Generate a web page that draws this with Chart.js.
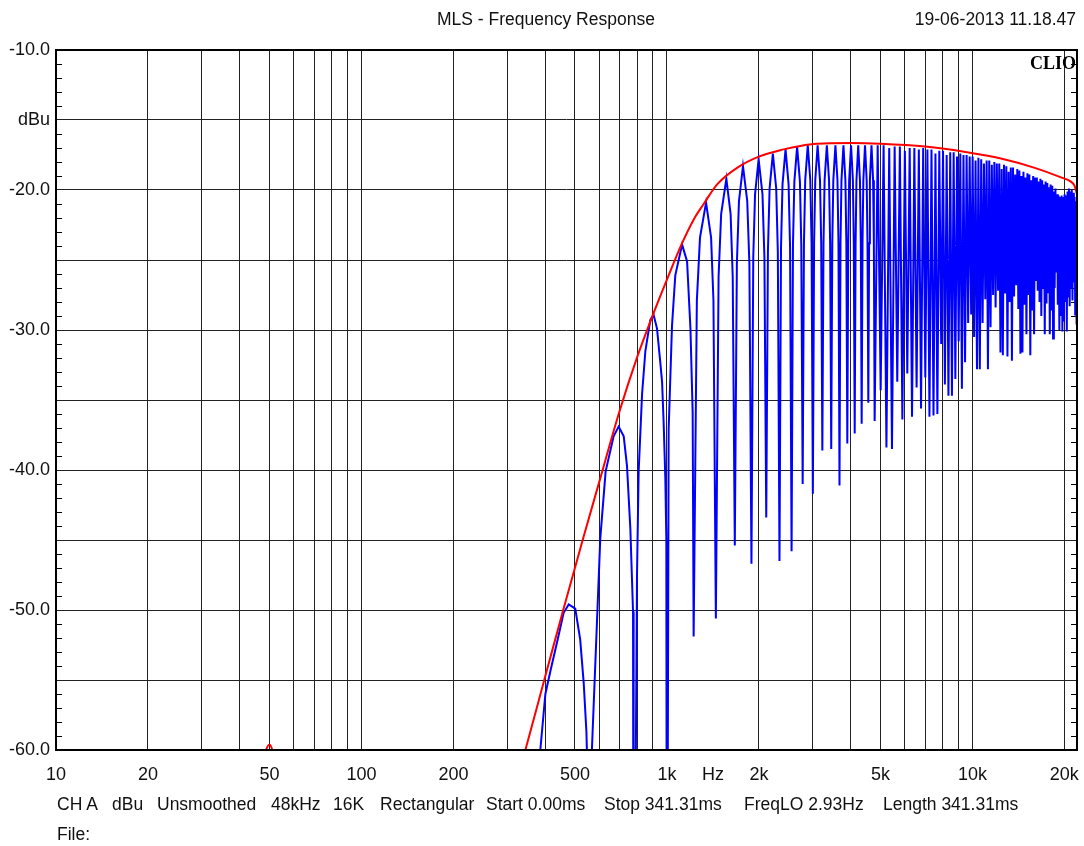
<!DOCTYPE html>
<html>
<head>
<meta charset="utf-8">
<title>MLS - Frequency Response</title>
<script src="https://cdn.jsdelivr.net/npm/chart.js@4.4.0/dist/chart.umd.min.js"></script>
<style>
  html, body { margin: 0; padding: 0; background: #fff; }
  #wrap { position: relative; width: 1084px; height: 846px; overflow: hidden;
          font-family: "Liberation Sans", Arial, sans-serif; color: #111; }
  #wrap canvas { position: absolute; left: 0; top: 0; }
  .txt { position: absolute; font-size: 17.5px; line-height: 20px; white-space: pre; }
  .foot { top: 794px; }
  #clio { position: absolute; right: 8px; top: 53px; font-family: "Liberation Serif", "DejaVu Serif", serif;
          font-weight: bold; font-size: 18px; line-height: 20px; color: #000; }
</style>
</head>
<body>
<div id="wrap">
  <canvas id="chart" width="1084" height="846"></canvas>
  <div class="txt" style="left:437px; top:9px;">MLS - Frequency Response</div>
  <div class="txt" style="right:8px; top:9px;">19-06-2013 11.18.47</div>
  <div id="clio">CLIO</div>
  <div class="txt foot" style="left:57px;">CH A</div>
  <div class="txt foot" style="left:112px;">dBu</div>
  <div class="txt foot" style="left:157px;">Unsmoothed</div>
  <div class="txt foot" style="left:271px;">48kHz</div>
  <div class="txt foot" style="left:333px;">16K</div>
  <div class="txt foot" style="left:380px;">Rectangular</div>
  <div class="txt foot" style="left:486px;">Start 0.00ms</div>
  <div class="txt foot" style="left:604px;">Stop 341.31ms</div>
  <div class="txt foot" style="left:744px;">FreqLO 2.93Hz</div>
  <div class="txt foot" style="left:883px;">Length 341.31ms</div>
  <div class="txt" style="left:57px; top:824px;">File:</div>
</div>
<script>
// Axis ticks
const xTickHz   = [10, 20, 30, 40, 50, 60, 70, 80, 90, 100, 200, 300, 400, 500, 600, 700, 800, 900,
                   1000, 1414, 2000, 3000, 4000, 5000, 6000, 7000, 8000, 9000, 10000, 20000];
const xTickText = ['10', '20', '', '', '50', '', '', '', '', '100', '200', '', '', '500', '', '', '', '',
                   '1k', 'Hz', '2k', '', '', '5k', '', '', '', '', '10k', '20k'];
const yTickDb   = [-60, -55, -50, -45, -40, -35, -30, -25, -20, -15, -10];
const yTickText = ['-60.0', '', '-50.0', '', '-40.0', '', '-30.0', '', '-20.0', 'dBu', '-10.0'];

// Smoothed envelope (red)
const envelopeHz = [10, 45, 50, 55, 300, 344, 400, 459, 533, 605, 695, 800, 904,
                    1000, 1121, 1224, 1319, 1460, 1701, 2009, 2410, 2732, 3100, 4000, 5000, 7000,
                    9600, 12400, 15900, 19500, 21000, 21600, 22000];
const envelopeDb = [-90, -63, -59.6, -63, -64.6, -60, -54.7, -49.9, -44.8, -40.6, -36.0, -31.9, -28.8,
                    -26.4, -23.8, -22.1, -21.0, -19.6, -18.4, -17.6, -17.1, -16.85, -16.7, -16.65, -16.7, -16.9,
                    -17.3, -17.75, -18.4, -19.1, -19.4, -19.7, -20.3];

// Raw response (blue), lower lobes up to 4.8 kHz
const lobeHz = [
  370, 385, 400, 416, 440, 459, 477, 501, 520, 534, 545, 550, 555,
  562, 568, 605, 630, 669, 695, 722, 740, 759, 774.5, 778,
  798, 808, 829, 850, 882, 904, 928, 951, 964, 975.5, 988, 995.5, 1000,
  1013, 1039, 1065, 1121, 1164, 1194, 1214, 1223,
  1253, 1283, 1343, 1395, 1420, 1446,
  1476, 1505, 1565, 1616, 1642, 1668,
  1694, 1721, 1774, 1832, 1862, 1891,
  1917, 1943, 1996, 2055, 2085, 2114,
  2141, 2168, 2222, 2279, 2307, 2336,
  2363, 2390, 2445, 2502, 2530, 2559,
  2586, 2613, 2668, 2725, 2753, 2782,
  2809, 2836, 2891, 2947, 2975, 3004,
  3032, 3059, 3114, 3170, 3199, 3227,
  3255, 3282, 3338, 3394, 3422, 3450,
  3478, 3505, 3561, 3616, 3644, 3672,
  3700, 3727, 3783, 3839, 3867, 3895,
  3923, 3950, 4006, 4062, 4090, 4118,
  4146, 4173, 4229, 4284, 4312, 4340,
  4368, 4395, 4451, 4507, 4535, 4563,
  4591, 4618, 4674, 4730, 4758, 4786
];
const lobeDb = [
  -66, -60, -56, -54.3, -52.0, -50.2, -49.6, -49.9, -52.1, -55.2, -58.7, -62, -85,
  -68, -60, -44.9, -40.1, -37.6, -36.9, -37.6, -39.7, -44.2, -50.1, -85,
  -47.5, -40.1, -34.6, -31.5, -29.3, -28.9, -29.9, -32.3, -33.7, -36.6, -40.6, -45, -85,
  -37.1, -29.7, -26.1, -23.9, -25.1, -29.9, -35.9, -51.9,
  -27.9, -23.4, -20.9, -23.4, -27.9, -50.6,
  -26.2, -21.7, -19.2, -21.7, -26.2, -45.4,
  -25.3, -20.8, -18.3, -20.8, -25.3, -46.7,
  -24.8, -20.3, -17.8, -20.3, -24.8, -43.4,
  -24.4, -19.9, -17.4, -19.9, -24.4, -46.5,
  -24.1, -19.6, -17.1, -19.6, -24.1, -45.8,
  -23.9, -19.4, -16.9, -19.4, -23.9, -41.0,
  -23.8, -19.3, -16.8, -19.3, -23.8, -41.7,
  -23.8, -19.3, -16.8, -19.3, -23.8, -38.6,
  -23.8, -19.3, -16.8, -19.3, -23.8, -38.5,
  -23.8, -19.3, -16.8, -19.3, -23.8, -41.1,
  -23.8, -19.3, -16.8, -19.3, -23.8, -38.1,
  -23.8, -19.3, -16.8, -19.3, -23.8, -37.4,
  -23.8, -19.3, -16.8, -19.3, -23.8, -36.7,
  -23.8, -19.3, -16.8, -19.3, -23.8, -35.2,
  -23.8, -19.3, -16.8, -19.3, -23.8, -36.5
];

// Raw response (blue), dense comb above 4.8 kHz: lobe peaks and the notches after them
const combPeakHz = [
  4897, 5120, 5342, 5565, 5788, 6010, 6233, 6456, 6678, 6901,
  7124, 7346, 7569, 7792, 8014, 8237, 8460, 8682, 8905, 9128,
  9350, 9573, 9796, 10018, 10241, 10464, 10686, 10909, 11132, 11354,
  11577, 11800, 12022, 12245, 12468, 12690, 12913, 13136, 13358, 13581,
  13804, 14026, 14249, 14472, 14694, 14917, 15140, 15362, 15585, 15808,
  16030, 16253, 16476, 16698, 16921, 17144, 17366, 17589, 17812, 18034,
  18257, 18480, 18702, 18925, 19148, 19370, 19593, 19816, 20038, 20261,
  20484, 20706, 20929, 21152, 21374, 21597, 21820
];
const combPeakDb = [
  -16.8, -16.8, -17.0, -16.9, -16.9, -17.2, -17.0, -17.0, -17.1, -17.0,
  -17.1, -17.1, -17.4, -17.2, -17.2, -17.5, -17.3, -17.3, -17.6, -17.4,
  -17.5, -17.5, -17.6, -17.6, -17.9, -17.7, -17.8, -18.1, -17.9, -17.9,
  -18.2, -18.0, -18.1, -18.1, -18.5, -18.2, -18.3, -18.7, -18.4, -18.4,
  -18.9, -18.5, -18.6, -19.0, -18.7, -19.1, -18.8, -18.9, -19.3, -19.0,
  -19.1, -19.1, -19.4, -19.2, -19.3, -19.6, -19.4, -19.5, -19.8, -19.6,
  -19.7, -20.1, -19.9, -20.3, -20.4, -20.5, -20.4, -20.5, -20.3, -20.4,
  -20.1, -19.9, -20.1, -20.0, -20.2, -20.5, -20.8
];
const combNotchHz = [
  5008, 5231, 5454, 5676, 5899, 6122, 6344, 6567, 6790, 7012,
  7235, 7458, 7680, 7903, 8126, 8348, 8571, 8794, 9016, 9239,
  9462, 9684, 9907, 10130, 10352, 10575, 10798, 11020, 11243, 11466,
  11688, 11911, 12134, 12356, 12579, 12802, 13024, 13247, 13470, 13692,
  13915, 14138, 14360, 14583, 14806, 15028, 15251, 15474, 15696, 15919,
  16142, 16364, 16587, 16810, 17032, 17255, 17478, 17700, 17923, 18146,
  18368, 18591, 18814, 19036, 19259, 19482, 19704, 19927, 20150, 20372,
  20595, 20818, 21040, 21263, 21486, 21708, 21931
];
const combNotchDb = [
  -34.3, -38.4, -38.5, -33.7, -36.4, -33.1, -36.2, -34.1, -35.6, -33.4,
  -36.2, -36.1, -36.0, -31.0, -33.9, -34.7, -34.7, -33.5, -30.8, -34.2,
  -32.3, -29.5, -28.9, -30.5, -32.8, -32.8, -29.5, -27.8, -32.8, -29.8,
  -27.5, -28.4, -27.2, -31.6, -31.8, -27.4, -31.9, -28.0, -32.2, -27.6,
  -26.8, -28.5, -31.7, -31.6, -28.2, -30.3, -27.5, -31.8, -28.6, -30.3,
  -26.5, -27.2, -28.0, -29.0, -27.0, -30.3, -28.1, -27.3, -30.3, -28.6,
  -30.6, -27.0, -25.9, -28.2, -30.0, -29.0, -30.1, -29.4, -28.0, -30.1,
  -27.6, -28.3, -27.0, -27.9, -26.6, -28.9, -29.6
];
const tailHz = [22000];
const tailDb = [-21.2];

// Assemble the point lists for the library
const envelopePts = envelopeHz.map((f, i) => ({ x: f, y: envelopeDb[i] }));
const responsePts = lobeHz.map((f, i) => ({ x: f, y: lobeDb[i] }));
combPeakHz.forEach((f, i) => {
  responsePts.push({ x: f, y: combPeakDb[i] });
  responsePts.push({ x: combNotchHz[i], y: combNotchDb[i] });
});
tailHz.forEach((f, i) => responsePts.push({ x: f, y: tailDb[i] }));

const FONT = { family: '"Liberation Sans", Arial, sans-serif', size: 18 };
const GRID = '#222';

// Frame and the 1 dB minor ticks on both vertical edges
const framePlugin = {
  id: 'frame',
  beforeDatasetsDraw(chart) {
    const { ctx, chartArea: a, scales: { y } } = chart;
    ctx.save();
    ctx.strokeStyle = '#000';
    ctx.lineWidth = 1;
    ctx.beginPath();
    for (let v = -59; v <= -11; v++) {
      if (v % 5 === 0) continue;
      const py = Math.round(y.getPixelForValue(v)) + 0.5;
      ctx.moveTo(a.left, py); ctx.lineTo(a.left + 6, py);
      ctx.moveTo(a.right - 6, py); ctx.lineTo(a.right, py);
    }
    ctx.stroke();
    ctx.restore();
  },
  afterDatasetsDraw(chart) {
    const { ctx, chartArea: a } = chart;
    ctx.save();
    ctx.strokeStyle = '#000';
    ctx.lineWidth = 2;
    ctx.strokeRect(a.left, a.top, a.right - a.left, a.bottom - a.top);
    ctx.restore();
  }
};

new Chart(document.getElementById('chart'), {
  type: 'line',
  data: {
    datasets: [
      {
        label: 'Envelope',
        data: envelopePts,
        borderColor: '#ff0000',
        borderWidth: 2,
        pointRadius: 0,
        cubicInterpolationMode: 'monotone',
        clip: 0
      },
      {
        label: 'Response',
        data: responsePts,
        borderColor: '#0000ff',
        borderWidth: 2,
        pointRadius: 0,
        tension: 0,
        clip: 0
      }
    ]
  },
  options: {
    responsive: false,
    animation: false,
    parsing: false,
    normalized: true,
    devicePixelRatio: 1,
    layout: { padding: { top: 50, right: 7, left: 0, bottom: 0 } },
    plugins: { legend: { display: false }, tooltip: { enabled: false }, title: { display: false } },
    scales: {
      x: {
        type: 'logarithmic',
        position: 'bottom',
        min: 10,
        max: 22000,
        afterBuildTicks: s => { s.ticks = xTickHz.map(v => ({ value: v })); },
        afterFit: s => { s.height = 96; s.paddingLeft = 0; s.paddingRight = 0; },
        ticks: {
          autoSkip: false, maxRotation: 0, minRotation: 0, padding: 14,
          color: '#111', font: FONT,
          callback: (v, i) => xTickText[i]
        },
        grid: {
          drawTicks: false, lineWidth: 1,
          color: ctx => (ctx.tick && ctx.tick.value === 1414) ? 'rgba(0,0,0,0)' : GRID
        },
        border: { display: false }
      },
      y: {
        min: -60,
        max: -10,
        afterBuildTicks: s => { s.ticks = yTickDb.map(v => ({ value: v })); },
        afterFit: s => { s.width = 56; s.paddingTop = 0; s.paddingBottom = 0; },
        ticks: {
          autoSkip: false, padding: 6, color: '#111', font: FONT,
          callback: (v, i) => yTickText[i]
        },
        grid: { drawTicks: false, lineWidth: 1, color: GRID },
        border: { display: false }
      }
    }
  },
  plugins: [framePlugin]
});
</script>
</body>
</html>
